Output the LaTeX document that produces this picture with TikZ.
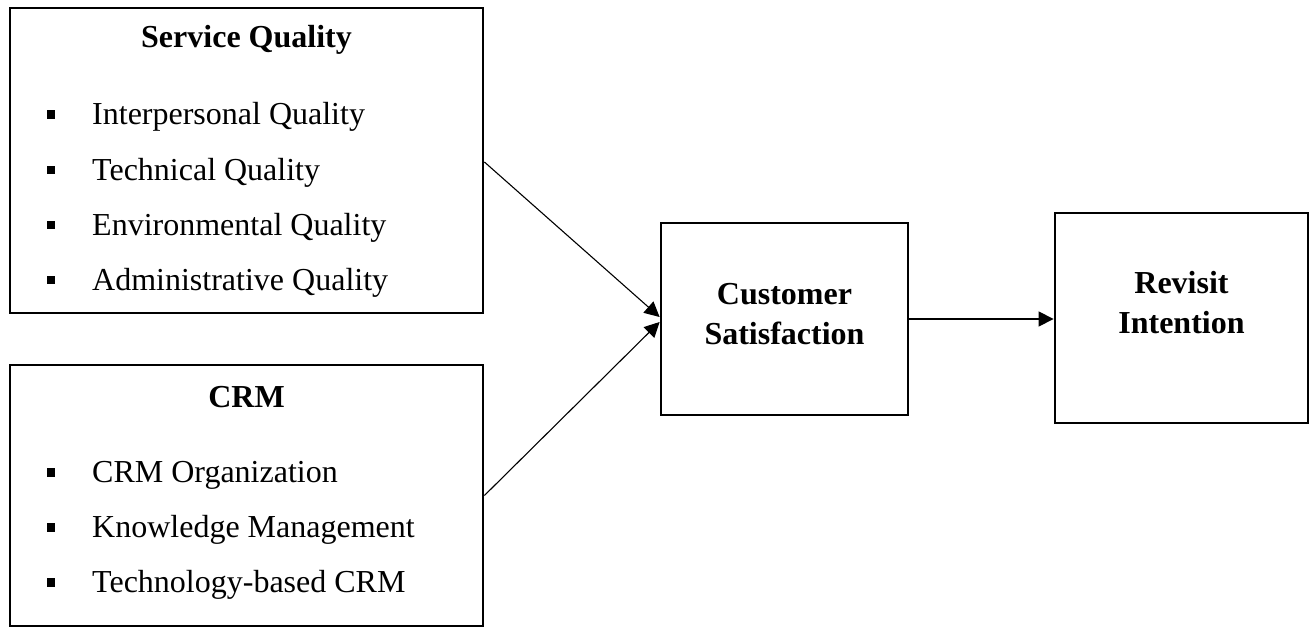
\documentclass[tikz,border=0pt]{standalone}
\usepackage{fontspec}
\setmainfont{Liberation Serif}
\usetikzlibrary{arrows.meta}
\begin{document}
\begin{tikzpicture}[x=1pt,y=-1pt,
  box/.style={draw=black,line width=2.8pt,fill=none,inner sep=0pt},
  ttl/.style={font=\fontsize{32}{40}\selectfont\bfseries,anchor=base,align=center,inner sep=0pt},
  item/.style={font=\fontsize{32}{40}\selectfont,anchor=base west,inner sep=0pt},
  bul/.style={fill=black,draw=none,minimum size=8.6pt,inner sep=0pt,rectangle},
  conn/.style={line width=1.1pt,-{Triangle[length=15pt,width=15pt]}}
]
\useasboundingbox (0,0) rectangle (1313,628);
\fill[white] (0,0) rectangle (1313,628);

% boxes
\node[box,minimum width=473pt,minimum height=305pt] (sq) at (246.5,160.5) {};
\node[box,minimum width=473pt,minimum height=261pt] (crm) at (246.5,495.5) {};
\node[box,minimum width=247pt,minimum height=192pt] (cs) at (784.5,319) {};
\node[box,minimum width=253pt,minimum height=210pt] (ri) at (1181.5,318) {};

% Service Quality
\node[ttl] (sqt) at (246.5,48) {Service Quality};
\node[bul] (b1) at (51,114.5) {};
\node[bul] (b2) at (51,170) {};
\node[bul] (b3) at (51,225) {};
\node[bul] (b4) at (51,280) {};
\node[item] (i1) at (92,125) {Interpersonal Quality};
\node[item] (i2) at (92,180.5) {Technical Quality};
\node[item] (i3) at (92,235.5) {Environmental Quality};
\node[item] (i4) at (92,290.5) {Administrative Quality};

% CRM
\node[ttl] (crmt) at (246.5,407) {CRM};
\node[bul] (c1) at (51,472.5) {};
\node[bul] (c2) at (51,527.5) {};
\node[bul] (c3) at (51,582.5) {};
\node[item] (j1) at (92,482.5) {CRM Organization};
\node[item] (j2) at (92,537.5) {Knowledge Management};
\node[item] (j3) at (92,592.5) {Technology-based CRM};

% right boxes text (base = last line)
\node[ttl] (cst) at (784.5,344) {Customer\\Satisfaction};
\node[ttl] (rit) at (1181.5,333) {Revisit\\Intention};

% connectors
\draw[conn] ([yshift=-1.5pt]sq.east) -- ([yshift=2pt]cs.west);
\draw[conn] (crm.east) -- ([yshift=-3pt]cs.west);
\draw[conn] (cs.east) -- (cs.east -| ri.west);
\end{tikzpicture}
\end{document}
